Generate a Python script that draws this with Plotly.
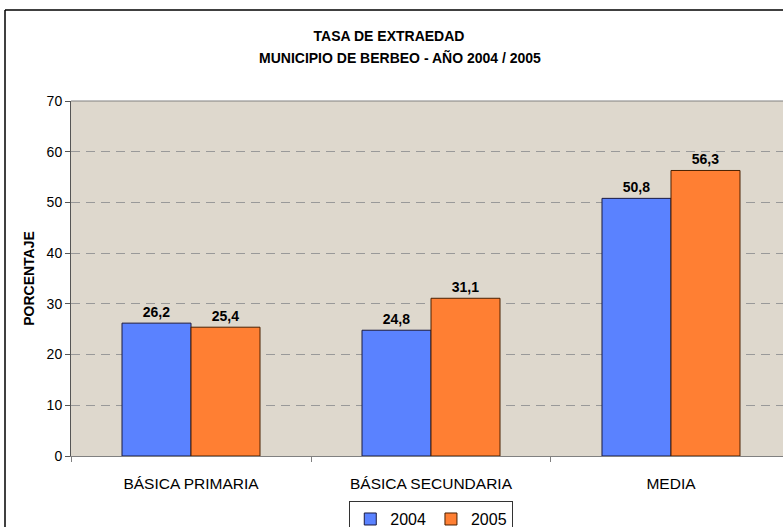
import plotly.graph_objects as go

categorias = ["BÁSICA PRIMARIA", "BÁSICA SECUNDARIA", "MEDIA"]
tasa_2004 = [26.2, 24.8, 50.8]
tasa_2005 = [25.4, 31.1, 56.3]
etiq_2004 = ["26,2", "24,8", "50,8"]
etiq_2005 = ["25,4", "31,1", "56,3"]

etiqueta_font = dict(family="Liberation Sans", size=14, color="black", weight="bold")

fig = go.Figure()
fig.add_trace(go.Bar(
    name="2004", x=categorias, y=tasa_2004,
    text=etiq_2004, textposition="outside", cliponaxis=False,
    textfont=etiqueta_font,
    marker=dict(color="#5A82FF", line=dict(color="#1a1a40", width=1)),
))
fig.add_trace(go.Bar(
    name="2005", x=categorias, y=tasa_2005,
    text=etiq_2005, textposition="outside", cliponaxis=False,
    textfont=etiqueta_font,
    marker=dict(color="#FF7F33", line=dict(color="#4a2000", width=1)),
))

fig.update_layout(
    width=783, height=527,
    margin=dict(l=71, r=0, t=101, b=71, autoexpand=False),
    paper_bgcolor="white",
    plot_bgcolor="#DED8CD",
    barmode="group",
    bargap=0.425, bargroupgap=0,
    font=dict(family="Liberation Sans", size=14, color="black"),
    title=dict(
        text="<b>TASA DE EXTRAEDAD</b>",
        x=389 / 783, xanchor="center", y=1 - 36 / 527, yanchor="middle",
        xref="container", yref="container",
        font=dict(size=14),
    ),
    legend=dict(
        orientation="h", x=0.506, xanchor="center", y=-0.127, yanchor="top",
        bordercolor="#333333", borderwidth=1, bgcolor="white",
        font=dict(size=16), itemwidth=30,
    ),
    showlegend=True,
)

# segunda linea del titulo
fig.add_annotation(
    text="<b>MUNICIPIO DE BERBEO - AÑO 2004 / 2005</b>",
    xref="paper", yref="paper", x=(400 - 71) / 712, y=1 + 43 / 355,
    xanchor="center", yanchor="middle", showarrow=False, font=dict(size=14),
)

fig.update_xaxes(
    range=[-0.5, 2.4667], showline=True, linecolor="#808080", linewidth=1,
    ticks="outside", tickson="boundaries", ticklen=5, tickcolor="#808080",
    tickfont=dict(size=15.5), showgrid=False, automargin=False,
    ticklabelstandoff=13,
)
fig.update_yaxes(
    range=[0, 70], dtick=10, showline=True, linecolor="#555555", linewidth=1,
    ticks="outside", ticklen=5, tickcolor="#555555",
    showgrid=True, gridcolor="#999999", griddash="9px,6px", gridwidth=1,
    zeroline=False, automargin=False,
    title=dict(text="<b>PORCENTAJE</b>", font=dict(size=14), standoff=8),
    tickfont=dict(size=14),
)

# borde superior del area de trazado y marco exterior del grafico
fig.add_shape(type="line", xref="paper", yref="paper", x0=0, x1=1, y0=1, y1=1,
              line=dict(color="#808080", width=1))
fig.add_shape(type="line", xref="paper", yref="paper",
              x0=-66 / 712, x1=-66 / 712, y0=-80 / 355, y1=91 / 355 + 1,
              line=dict(color="black", width=1.5))
fig.add_shape(type="line", xref="paper", yref="paper",
              x0=-66 / 712, x1=1.02, y0=1 + 91 / 355, y1=1 + 91 / 355,
              line=dict(color="black", width=1.5))

fig.write_html("out.html", config={"displayModeBar": False},
               post_script="document.body.style.margin='0';")
